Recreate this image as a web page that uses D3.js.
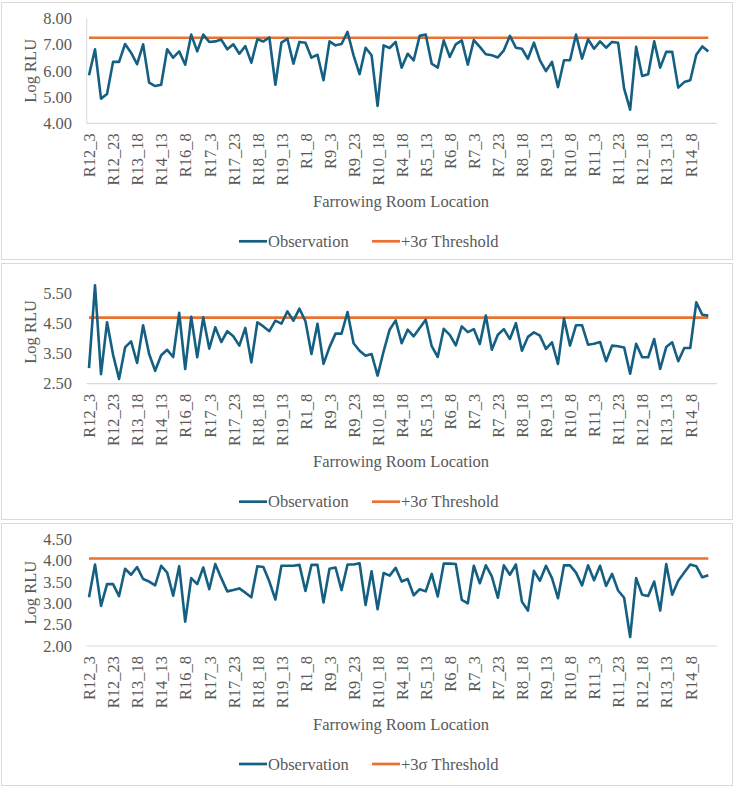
<!DOCTYPE html>
<html>
<head>
<meta charset="utf-8">
<script src="https://cdn.jsdelivr.net/npm/d3@7"></script>
<style>
  html, body { margin: 0; padding: 0; background: #ffffff; }
  svg { display: block; }
  text { font-family: "Liberation Serif", "Times New Roman", serif; fill: #595959; }
</style>
</head>
<body>
<svg id="chart" width="735" height="788"></svg>
<script>
// ---------- DATA ----------
const categories = [
  "R12_3","R12_8","R12_13","R12_18","R12_23",
  "R13_3","R13_8","R13_13","R13_18","R13_23",
  "R14_3","R14_8","R14_13","R14_18","R14_23",
  "R16_3","R16_8","R16_13","R16_18","R16_23",
  "R17_3","R17_8","R17_13","R17_18","R17_23",
  "R18_3","R18_8","R18_13","R18_18","R18_23",
  "R19_3","R19_8","R19_13","R19_18","R19_23",
  "R1_3","R1_8","R1_13","R1_18","R1_23",
  "R9_3","R9_8","R9_13","R9_18","R9_23",
  "R10_3","R10_8","R10_13","R10_18","R10_23",
  "R4_3","R4_8","R4_18","R4_23",
  "R5_3","R5_8","R5_13","R5_18","R5_23",
  "R6_3","R6_8","R6_13","R6_18","R6_23",
  "R7_3","R7_8","R7_13","R7_18","R7_23",
  "R8_3","R8_8","R8_13","R8_18","R8_23",
  "R9_3","R9_8","R9_13","R9_18","R9_23",
  "R10_3","R10_8","R10_13","R10_18","R10_23",
  "R11_3","R11_8","R11_13","R11_18","R11_23",
  "R12_3","R12_8","R12_13","R12_18","R12_23",
  "R13_3","R13_8","R13_13","R13_18","R13_23",
  "R14_3","R14_8","R14_13","R14_18","R14_23"
];

const observation1 = [
  5.83,6.82,4.94,5.12,6.34,6.34,7.02,6.69,6.25,7.01,
  5.55,5.42,5.47,6.82,6.50,6.74,6.23,7.38,6.74,7.38,
  7.10,7.12,7.19,6.82,7.01,6.65,6.94,6.31,7.20,7.12,
  7.27,5.47,7.07,7.22,6.27,7.10,7.07,6.50,6.61,5.64,
  7.12,6.97,7.02,7.48,6.59,5.87,6.88,6.59,4.66,6.97,
  6.87,7.10,6.12,6.65,6.40,7.33,7.38,6.27,6.12,7.16,
  6.53,7.01,7.16,6.23,7.17,6.91,6.63,6.59,6.51,6.78,
  7.33,6.88,6.84,6.46,7.07,6.40,5.99,6.34,5.38,6.40,
  6.40,7.38,6.46,7.20,6.84,7.12,6.88,7.10,7.07,5.32,
  4.52,6.91,5.80,5.87,7.12,6.12,6.72,6.72,5.36,5.57,
  5.64,6.61,6.93,6.74
];
const observation2 = [
  3.02,5.78,2.82,4.55,3.47,2.66,3.71,3.91,3.19,4.45,
  3.49,2.93,3.45,3.63,3.39,4.86,2.99,4.73,3.38,4.71,
  3.67,4.38,3.89,4.25,4.08,3.77,4.36,3.21,4.55,4.41,
  4.25,4.60,4.50,4.91,4.60,5.00,4.58,3.49,4.50,3.16,
  3.72,4.17,4.17,4.89,3.85,3.60,3.43,3.49,2.77,3.58,
  4.30,4.61,3.85,4.30,4.08,4.36,4.63,3.75,3.39,4.33,
  4.13,3.78,4.41,4.22,4.32,3.82,4.77,3.63,4.13,4.32,
  3.99,4.52,3.60,4.06,4.21,4.10,3.66,3.88,3.16,4.67,
  3.77,4.45,4.45,3.80,3.83,3.89,3.25,3.77,3.75,3.71,
  2.83,3.83,3.38,3.38,3.99,2.99,3.72,3.88,3.25,3.69,
  3.69,5.21,4.80,4.77
];
const observation3 = [
  3.14,3.91,2.94,3.45,3.45,3.17,3.81,3.67,3.85,3.57,
  3.51,3.42,3.88,3.72,3.18,3.87,2.57,3.59,3.45,3.84,
  3.33,3.92,3.59,3.28,3.31,3.35,3.25,3.14,3.87,3.85,
  3.51,3.09,3.88,3.88,3.88,3.90,3.29,3.90,3.90,3.02,
  3.81,3.84,3.31,3.91,3.91,3.94,2.96,3.75,2.86,3.71,
  3.65,3.83,3.51,3.57,3.19,3.33,3.28,3.69,3.16,3.93,
  3.93,3.92,3.08,3.00,3.88,3.47,3.89,3.63,3.13,3.89,
  3.67,3.91,3.04,2.83,3.76,3.53,3.88,3.59,3.12,3.89,
  3.89,3.72,3.42,3.89,3.54,3.88,3.41,3.69,3.30,3.13,
  2.21,3.59,3.20,3.17,3.51,2.83,3.92,3.20,3.53,3.72,
  3.91,3.87,3.61,3.66
];
const thresholds = [7.26, 4.70, 4.05];

const yTicks1 = [4, 5, 6, 7, 8];
const yTicks2 = [2.5, 3.5, 4.5, 5.5];
const yTicks3 = [2.0, 2.5, 3.0, 3.5, 4.0, 4.5];

const seriesNames = ["Observation", "+3\u03c3 Threshold"];
const xTitle = "Farrowing Room Location";
const yTitle = "Log RLU";

// ---------- LAYOUT ----------
const colors = { obs: "#156082", thr: "#E97132", axis: "#d9d9d9", border: "#d9d9d9" };
const FONT = 16.5;

const panels = [
  { obs: observation1, thr: thresholds[0], ticks: yTicks1, domain: [4, 8],    box: [2, 259],   yr: [123.3, 18.3],  leftLine: true },
  { obs: observation2, thr: thresholds[1], ticks: yTicks2, domain: [2.5, 5.95], box: [263, 519], yr: [383.7, 280.2], leftLine: false },
  { obs: observation3, thr: thresholds[2], ticks: yTicks3, domain: [2, 4.5],  box: [523, 785], yr: [646, 539.3],   leftLine: false }
];

const svg = d3.select("#chart");
const idx = d3.range(categories.length);
const x = d3.scalePoint().domain(idx).range([89, 708.3]);
const plotLeft = 86.7, plotRight = 716.7;

panels.forEach(p => {
  const g = svg.append("g");
  // panel border
  g.append("rect")
    .attr("x", 1.5).attr("y", p.box[0] + 0.5)
    .attr("width", 731).attr("height", p.box[1] - p.box[0])
    .attr("fill", "none").attr("stroke", colors.border).attr("stroke-width", 1);

  const y = d3.scaleLinear().domain(p.domain).range(p.yr);
  const axisY = y(p.domain[0]);

  // y axis
  const yAxis = d3.axisLeft(y).tickValues(p.ticks).tickFormat(d3.format(".2f")).tickSize(0).tickPadding(0);
  const ya = g.append("g").attr("transform", `translate(${72},0)`).call(yAxis);
  ya.select(".domain").remove();
  ya.selectAll("text").attr("font-size", FONT).attr("fill", "#595959")
    .style("font-family", "'Liberation Serif', serif");

  if (p.leftLine) {
    g.append("line").attr("x1", plotLeft).attr("x2", plotLeft)
      .attr("y1", y(p.domain[1])).attr("y2", axisY)
      .attr("stroke", colors.axis).attr("stroke-width", 1);
  }

  // x axis line
  g.append("line").attr("x1", plotLeft).attr("x2", plotRight)
    .attr("y1", axisY).attr("y2", axisY)
    .attr("stroke", colors.axis).attr("stroke-width", 1.2);

  // x axis labels
  const xAxis = d3.axisBottom(x)
    .tickValues(idx.filter(i => i % 4 === 0))
    .tickFormat(i => categories[i]).tickSize(0).tickPadding(0);
  const xa = g.append("g").attr("transform", `translate(0,${axisY + 10})`).call(xAxis);
  xa.select(".domain").remove();
  xa.selectAll("text")
    .attr("font-size", FONT).attr("fill", "#595959")
    .style("font-family", "'Liberation Serif', serif")
    .attr("text-anchor", "end")
    .attr("transform", "rotate(-90)")
    .attr("x", 0).attr("y", 0).attr("dy", "0.35em");

  // y title
  g.append("text")
    .attr("transform", `translate(30,${(p.yr[0] + p.yr[1]) / 2}) rotate(-90)`)
    .attr("text-anchor", "middle").attr("dy", "0.35em")
    .attr("font-size", FONT).text(yTitle);

  // x title
  g.append("text")
    .attr("x", 401).attr("y", axisY + 78).attr("dy", "0.35em")
    .attr("text-anchor", "middle").attr("font-size", FONT).text(xTitle);

  // threshold line
  const line = d3.line().x((d, i) => x(i)).y(d => y(d));
  g.append("path")
    .datum(idx.map(() => p.thr))
    .attr("d", line)
    .attr("fill", "none").attr("stroke", colors.thr).attr("stroke-width", 2.7);

  // observation line
  g.append("path")
    .datum(p.obs)
    .attr("d", line)
    .attr("fill", "none").attr("stroke", colors.obs).attr("stroke-width", 2.6)
    .attr("stroke-linejoin", "round");

  // legend
  const ly = axisY + 118;
  const leg = g.append("g");
  leg.append("line").attr("x1", 239).attr("x2", 267).attr("y1", ly).attr("y2", ly)
    .attr("stroke", colors.obs).attr("stroke-width", 2.7);
  leg.append("text").attr("x", 268).attr("y", ly).attr("dy", "0.35em")
    .attr("font-size", FONT).text(seriesNames[0]);
  leg.append("line").attr("x1", 372).attr("x2", 400).attr("y1", ly).attr("y2", ly)
    .attr("stroke", colors.thr).attr("stroke-width", 2.7);
  leg.append("text").attr("x", 401).attr("y", ly).attr("dy", "0.35em")
    .attr("font-size", FONT).text(seriesNames[1]);
});
</script>
</body>
</html>
